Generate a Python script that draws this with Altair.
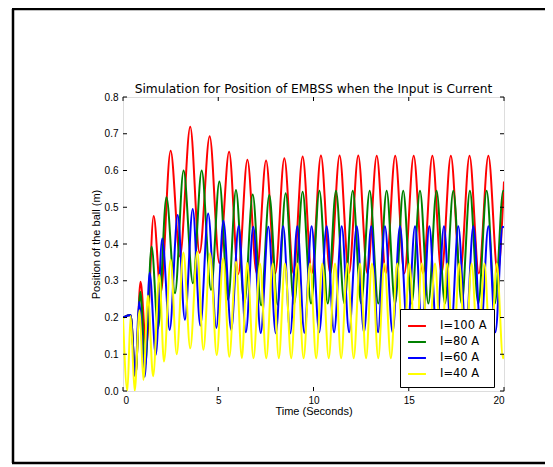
import altair as alt
import pandas as pd

# (time in s, position in m) at the peaks and troughs
red_pts = [(0, 0.2), (0.4, 0.207), (0.65, 0.04), (0.92, 0.297), (1.22, 0.12), (1.61, 0.476),
           (1.98, 0.267), (2.5, 0.654), (2.99, 0.366), (3.53, 0.719), (4.02, 0.376), (4.55, 0.693),
           (5.06, 0.348), (5.57, 0.651), (6.05, 0.318), (6.53, 0.629), (7.02, 0.32), (7.51, 0.627),
           (7.99, 0.32), (8.47, 0.633), (8.95, 0.32), (9.43, 0.638), (9.91, 0.32), (10.39, 0.641),
           (10.88, 0.32), (11.37, 0.641), (11.86, 0.32), (12.35, 0.641), (12.83, 0.32), (13.32, 0.64),
           (13.80, 0.32), (14.29, 0.64), (14.77, 0.32), (15.26, 0.64), (15.75, 0.32), (16.24, 0.64),
           (16.72, 0.32), (17.21, 0.64), (17.70, 0.32), (18.19, 0.64), (18.68, 0.32), (19.18, 0.64),
           (19.67, 0.32), (20.0, 0.57)]

green_pts = [(0, 0.2), (0.4, 0.207), (0.65, 0.04), (0.91, 0.27), (1.17, 0.07), (1.5, 0.393),
             (1.84, 0.17), (2.28, 0.527), (2.73, 0.266), (3.18, 0.60), (3.67, 0.293), (4.13, 0.60),
             (4.62, 0.275), (5.06, 0.57), (5.52, 0.248), (5.93, 0.547), (6.37, 0.238), (6.81, 0.535),
             (7.25, 0.233), (7.68, 0.533), (8.11, 0.235), (8.54, 0.538), (8.98, 0.237), (9.43, 0.542),
             (9.87, 0.238), (10.31, 0.545), (10.75, 0.238), (11.18, 0.545), (11.62, 0.238), (12.06, 0.545),
             (12.50, 0.238), (12.95, 0.545), (13.40, 0.238), (13.84, 0.545), (14.28, 0.238), (14.71, 0.545),
             (15.15, 0.238), (15.59, 0.545), (16.03, 0.238), (16.46, 0.545), (16.90, 0.238), (17.34, 0.545),
             (17.78, 0.238), (18.21, 0.545), (18.65, 0.238), (19.09, 0.545), (19.52, 0.238), (19.96, 0.545),
             (20.0, 0.544)]

blue_pts = [(0, 0.2), (0.4, 0.207), (0.65, 0.04), (0.84, 0.243), (1.14, 0.039), (1.4, 0.322),
            (1.72, 0.098), (2.06, 0.415), (2.45, 0.166), (2.87, 0.479), (3.25, 0.194), (3.66, 0.495),
            (4.06, 0.178), (4.47, 0.483), (4.9, 0.172), (5.27, 0.463), (5.68, 0.166), (6.07, 0.449),
            (6.45, 0.16), (6.84, 0.447), (7.23, 0.158), (7.63, 0.447), (8.02, 0.157), (8.41, 0.448),
            (8.78, 0.157), (9.15, 0.448), (9.52, 0.158), (9.90, 0.448), (10.30, 0.16), (10.69, 0.448),
            (11.08, 0.16), (11.48, 0.448), (11.87, 0.16), (12.27, 0.448), (12.65, 0.16), (13.03, 0.448),
            (13.39, 0.16), (13.75, 0.448), (14.15, 0.16), (14.54, 0.448), (14.93, 0.16), (15.33, 0.448),
            (15.70, 0.16), (16.08, 0.448), (16.46, 0.16), (16.85, 0.448), (17.22, 0.16), (17.60, 0.448),
            (18.00, 0.16), (18.39, 0.448), (18.78, 0.16), (19.18, 0.448), (19.55, 0.16), (19.93, 0.447),
            (20.0, 0.445)]

yellow_pts = [(0, 0.2), (0.23, 0.0), (0.4, 0.204), (0.61, 0.0), (0.87, 0.22), (1.07, 0.03),
              (1.31, 0.26), (1.58, 0.04), (1.91, 0.316), (2.15, 0.08), (2.5, 0.357), (2.82, 0.10),
              (3.17, 0.377), (3.53, 0.116), (3.9, 0.379), (4.22, 0.112), (4.57, 0.375), (4.92, 0.098),
              (5.26, 0.361), (5.58, 0.093), (5.93, 0.352), (6.24, 0.09), (6.52, 0.348), (6.85, 0.089),
              (7.19, 0.347), (7.52, 0.089), (7.86, 0.347), (8.18, 0.089), (8.50, 0.347), (8.83, 0.089),
              (9.15, 0.347), (9.48, 0.089), (9.82, 0.347), (10.14, 0.089), (10.46, 0.347), (10.80, 0.089),
              (11.13, 0.347), (11.45, 0.089), (11.78, 0.347), (12.11, 0.089), (12.44, 0.347), (12.76, 0.089),
              (13.07, 0.347), (13.40, 0.089), (13.72, 0.347), (14.06, 0.089), (14.40, 0.347), (14.72, 0.089),
              (15.03, 0.347), (15.37, 0.089), (15.68, 0.347), (16.03, 0.089), (16.38, 0.347), (16.70, 0.089),
              (17.02, 0.347), (17.34, 0.089), (17.65, 0.347), (17.98, 0.089), (18.30, 0.347), (18.64, 0.089),
              (18.97, 0.347), (19.30, 0.089), (19.62, 0.347), (19.95, 0.089), (20.0, 0.10)]

series_names = ["I=100 A", "I=80 A", "I=60 A", "I=40 A"]
series_colors = ["#ff0000", "#008000", "#0000ff", "#ffff00"]
x_ticks = [0, 5, 10, 15, 20]
y_ticks = [0.0, 0.1, 0.2, 0.3, 0.4, 0.5, 0.6, 0.7, 0.8]
title_text = "Simulation for Position of EMBSS when the Input is Current"

rows = []
for k, (name, pts) in enumerate(zip(series_names, [red_pts, green_pts, blue_pts, yellow_pts])):
    for t, v in pts:
        rows.append({"t": t, "v": v, "series": name, "k": k})
df = pd.DataFrame(rows)

W, H = 381, 294
FONT = "DejaVu Sans"

xscale = alt.Scale(domain=[0, 20], nice=False, zero=False)
yscale = alt.Scale(domain=[0, 0.8], nice=False, zero=False)
x_axis = alt.Axis(title="Time (Seconds)", values=x_ticks, format="d", ticks=False,
                  domain=False, grid=False, labelPadding=4, titlePadding=0,
                  titleFontWeight="normal", labelOverlap=False)
y_axis = alt.Axis(title="Position of the ball (m)", values=y_ticks, format=".1f",
                  ticks=False, domain=False, grid=False, labelPadding=5, titlePadding=3,
                  titleFontWeight="normal", labelOverlap=False)

lines = alt.Chart(df).mark_line(strokeWidth=2, interpolate="monotone", clip=True).encode(
    x=alt.X("t:Q", scale=xscale, axis=x_axis),
    y=alt.Y("v:Q", scale=yscale, axis=y_axis),
    color=alt.Color("series:N", scale=alt.Scale(domain=series_names, range=series_colors),
                    sort=series_names,
                    legend=alt.Legend(title=None, orient="none", legendX=277, legendY=212,
                                      symbolType="stroke", symbolSize=320, symbolStrokeWidth=2,
                                      labelFontSize=11.5, labelFont=FONT, labelOffset=13,
                                      rowPadding=0, padding=7, strokeColor="black",
                                      fillColor="white", cornerRadius=0)),
    order=alt.Order("k:Q"),
)

xt_df = pd.DataFrame({"t": x_ticks})
yt_df = pd.DataFrame({"v": y_ticks})
tick_bottom = alt.Chart(xt_df).mark_rule(color="black").encode(
    x=alt.X("t:Q", scale=xscale, axis=x_axis), y=alt.value(H), y2=alt.value(H - 4))
tick_top = alt.Chart(xt_df).mark_rule(color="black").encode(
    x=alt.X("t:Q", scale=xscale, axis=x_axis), y=alt.value(0), y2=alt.value(4))
tick_left = alt.Chart(yt_df).mark_rule(color="black").encode(
    y=alt.Y("v:Q", scale=yscale, axis=y_axis), x=alt.value(0), x2=alt.value(4))
tick_right = alt.Chart(yt_df).mark_rule(color="black").encode(
    y=alt.Y("v:Q", scale=yscale, axis=y_axis), x=alt.value(W - 4), x2=alt.value(W))

# outer figure border (left, top and bottom edges; the right edge lies outside the picture)
one = pd.DataFrame({"a": [0]})
border_left = alt.Chart(one).mark_rule(color="black", strokeWidth=2.5).encode(
    x=alt.value(-110), y=alt.value(-88), y2=alt.value(366))
border_top = alt.Chart(one).mark_rule(color="black", strokeWidth=2.5).encode(
    x=alt.value(-111), x2=alt.value(W + 60), y=alt.value(-88))
border_bottom = alt.Chart(one).mark_rule(color="black", strokeWidth=2.5).encode(
    x=alt.value(-111), x2=alt.value(W + 60), y=alt.value(366))

title = alt.Chart(pd.DataFrame({"label": [title_text]})).mark_text(
    font=FONT, fontSize=12.2, color="black", align="center", baseline="alphabetic").encode(
    text="label:N", x=alt.value(W / 2), y=alt.value(-4))

chart = alt.layer(border_left, border_top, border_bottom, lines,
                  tick_bottom, tick_top, tick_left, tick_right, title).properties(
    width=W, height=H,
    autosize=alt.AutoSizeParams(type="none"),
    padding={"left": 115, "top": 89, "right": 41, "bottom": 74},
).configure_view(stroke="black", strokeWidth=1).configure_axis(
    labelFont=FONT, labelFontSize=10, labelColor="black",
    titleFont=FONT, titleFontSize=10, titleFontWeight="normal", titleColor="black",
).configure(background="white")

chart.save("out.html", embed_options={"renderer": "svg", "actions": False})
